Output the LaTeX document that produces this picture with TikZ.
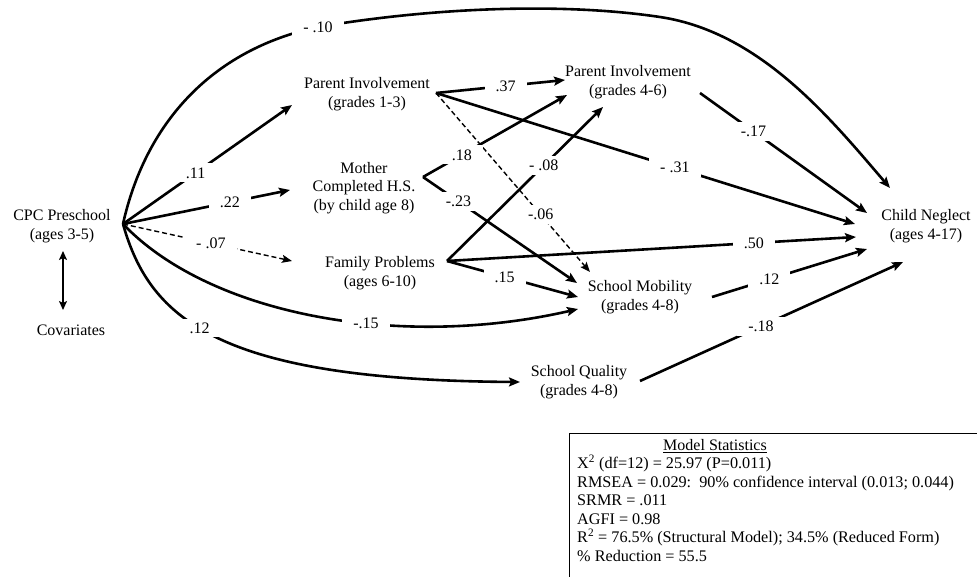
\documentclass[tikz,border=0pt]{standalone}
\usepackage{fontspec}
\setmainfont{Liberation Serif}
\usetikzlibrary{arrows.meta}

\begin{document}
\begin{tikzpicture}[x=1pt,y=-1pt]
\tikzstyle{every node}=[font=\fontsize{16}{18.5}\selectfont];
\tikzstyle{var}=[align=center,inner sep=0pt];
\tikzstyle{coef}=[fill=white,inner xsep=11pt,inner ysep=4pt];
\tikzstyle{sig}=[line width=2.6pt,-{Stealth[length=11pt,width=9pt,inset=2pt]}];
\tikzstyle{nonsig}=[line width=1.4pt,dash pattern=on 5pt off 3pt,-{Stealth[length=10pt,width=8pt,inset=2pt]}];
\useasboundingbox (0,0) rectangle (977,576);
\clip (0,0) rectangle (977,576);

% variables
\node[var] (cpc) at (62,226) {CPC Preschool\\(ages 3-5)};
\node[var] (cov) at (71,330) {Covariates};
\node[var] (pi13) at (367,94) {Parent Involvement\\(grades 1-3)};
\node[var] (mhs) at (364,188) {Mother\\Completed H.S.\\(by child age 8)};
\node[var] (fp) at (380,273) {Family Problems\\(ages 6-10)};
\node[var] (pi46) at (628,82) {Parent Involvement\\(grades 4-6)};
\node[var] (sm) at (640,297) {School Mobility\\(grades 4-8)};
\node[var] (sq) at (579,382) {School Quality\\(grades 4-8)};
\node[var] (cn) at (926,226) {Child Neglect\\(ages 4-17)};

\coordinate (cpc-o) at ([shift={(61,-2)}]cpc.center);
\coordinate (pi13-o) at ([shift={(69,-1)}]pi13.center);
\coordinate (mhs-o) at ([shift={(59,-11)}]mhs.center);
\coordinate (fp-o) at ([shift={(67,-12)}]fp.center);
\coordinate (pi46-o) at ([shift={(72,11)}]pi46.center);
\coordinate (sm-o) at ([shift={(72,0)}]sm.center);
\coordinate (sq-o) at ([shift={(61,-1)}]sq.center);

\draw[line width=1.8pt,{Stealth[length=9pt,width=8pt,inset=2pt]}-{Stealth[length=9pt,width=8pt,inset=2pt]}]
  ([shift={(1,25)}]cpc.center) -- ([shift={(-8,-20)}]cov.center);

% paths from preschool
\draw[sig] (cpc-o) .. controls (145,125) and (210,50) .. (318,27) node[coef]{- .10}
  .. controls (430,8) and (560,2) .. (660,17)
  .. controls (760,32) and (830,118) .. ([shift={(-36,-38)}]cn.center);
\draw[sig] (cpc-o) -- node[coef,pos=.43]{.11} ([shift={(-75,11)}]pi13.center);
\draw[sig] (cpc-o) -- node[coef,pos=.64]{.22} ([shift={(-74,2)}]mhs.center);
\draw[nonsig] (cpc-o) -- node[coef,pos=.52]{- .07} ([shift={(-88,-12)}]fp.center);
\draw[sig] (cpc-o) .. controls (210,315) and (400,350) .. ([shift={(-62,12)}]sm.center) node[coef,pos=.6]{-.15};
\draw[sig] (cpc-o) .. controls (150,320) and (220,380) .. ([shift={(-59,0)}]sq.center) node[coef,pos=.44]{.12};

% mediators
\draw[sig] (pi13-o) -- node[coef,pos=.54]{.37} ([shift={(-63,-2)}]pi46.center);
\draw[sig] (pi13-o) -- node[coef,pos=.57]{- .31} ([shift={(-71,-2)}]cn.center);
\draw[nonsig] (pi13-o) -- node[coef,pos=.68]{-.06} ([shift={(-50,-25)}]sm.center);
\draw[sig] (mhs-o) -- node[coef,pos=.27]{.18} ([shift={(-61,13)}]pi46.center);
\draw[sig] (mhs-o) -- node[coef,pos=.23]{-.23} ([shift={(-63,-14)}]sm.center);
\draw[sig] (fp-o) -- node[coef,pos=.62]{- .08} ([shift={(-25,25)}]pi46.center);
\draw[sig] (fp-o) -- node[coef,pos=.75]{.50} ([shift={(-70,11)}]cn.center);
\draw[sig] (fp-o) -- node[coef,pos=.44]{.15} ([shift={(-62,0)}]sm.center);
\draw[sig] (pi46-o) -- node[coef,pos=.32]{-.17} ([shift={(-59,-13)}]cn.center);
\draw[sig] (sm-o) -- node[coef,pos=.37]{.12} ([shift={(-59,23)}]cn.center);
\draw[sig] (sq-o) -- node[coef,pos=.46]{-.18} ([shift={(-23,36)}]cn.center);

% fit box
\draw[line width=0.8pt] (569,433) rectangle (990,590);
\node (stt) at (715,446) {\underline{Model Statistics}};
\node[anchor=north west,align=left,inner sep=0pt,font=\fontsize{16.2}{18.5}\selectfont] (sts) at (577,455) {X\textsuperscript{2} (df=12) = 25.97 (P=0.011)\\RMSEA = 0.029:\ \ 90\% confidence interval (0.013; 0.044)\\SRMR = .011\\AGFI = 0.98\\R\textsuperscript{2} = 76.5\% (Structural Model); 34.5\% (Reduced Form)\\\% Reduction = 55.5};
\end{tikzpicture}
\end{document}
